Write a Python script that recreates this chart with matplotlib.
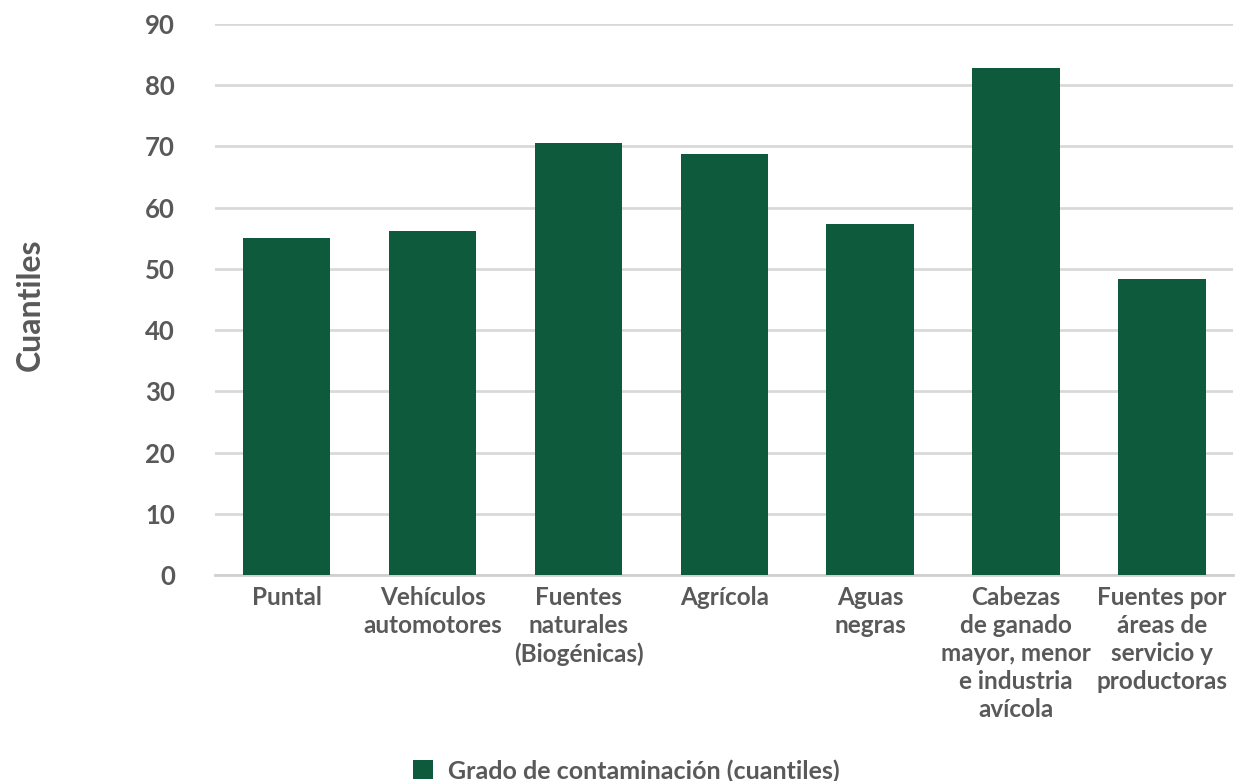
import matplotlib.pyplot as plt

categorias = ['Puntal', 'Vehículos\nautomotores', 'Fuentes\nnaturales\n(Biogénicas)', 'Agrícola',
              'Aguas\nnegras', 'Cabezas\nde ganado\nmayor, menor\ne industria\navícola',
              'Fuentes por\náreas de\nservicio y\nproductoras']
valores = [55.0, 56.2, 70.6, 68.8, 57.4, 82.8, 48.3]
ticks_y = [0, 10, 20, 30, 40, 50, 60, 70, 80, 90]

verde = '#0e5a3c'
gris = '#595959'

plt.rcParams['font.family'] = ['Lato', 'DejaVu Sans']
plt.rcParams['font.weight'] = 'bold'

fig = plt.figure(figsize=(12.51, 7.81), dpi=100)
ax = fig.add_axes([0.172, 0.2637, 0.814, 0.7055])

x = list(range(len(categorias)))
ax.bar(x, valores, width=0.6, color=verde, zorder=3, label='Grado de contaminación (cuantiles)')

ax.set_ylim(0, 90)
ax.set_xlim(-0.49, len(categorias) - 0.51)
ax.set_yticks(ticks_y)
ax.set_xticks(x)
ax.set_xticklabels(categorias, linespacing=1.26)
ax.grid(axis='y', color='#d9d9d9', linewidth=2, zorder=0)
ax.tick_params(axis='both', length=0, colors=gris)
ax.tick_params(axis='y', labelsize=18.5, pad=29)
ax.tick_params(axis='x', labelsize=17.5, pad=8)
for lbl in ax.get_yticklabels():
    lbl.set_horizontalalignment('right')
for s in ['top', 'right', 'left']:
    ax.spines[s].set_visible(False)
ax.spines['bottom'].set_color('#d0d0d0')
ax.spines['bottom'].set_linewidth(2)

fig.text(0.024, 0.61, 'Cuantiles', rotation=90, fontsize=23, color=gris,
         ha='center', va='center', fontweight='bold')

fig.legend(loc='center', bbox_to_anchor=(0.501, 0.013), frameon=False, fontsize=18,
           labelcolor=gris, handlelength=0.8, handleheight=0.8, handletextpad=0.6)

fig.savefig('out.png', dpi=100)
